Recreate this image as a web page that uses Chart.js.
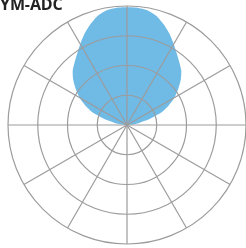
<!DOCTYPE html>
<html>
<head>
<meta charset="utf-8">
<script src="https://cdn.jsdelivr.net/npm/chart.js@4"></script>
<style>
html,body{margin:0;padding:0;background:#fff;overflow:hidden;}
#wrap{position:relative;width:246px;height:248px;}
#title{position:absolute;left:0;top:-7px;font-family:"Open Sans",sans-serif;font-weight:700;font-size:16px;color:#222;white-space:nowrap;z-index:2;letter-spacing:-0.1px;}
canvas{position:absolute;left:0;top:0;}
</style>
</head>
<body>
<div id="wrap">
<div id="title">YM-ADC</div>
<canvas id="c" width="246" height="248"></canvas>
</div>
<script>
// angle categories (degrees, clockwise from top)
const angles = [0,5,10,15,20,25,30,35,40,45,50,55,60,65,70,75,80,85,90,95,100,105,110,115,120,125,130,135,140,145,150,155,160,165,170,175,180,185,190,195,200,205,210,215,220,225,230,235,240,245,250,255,260,265,270,275,280,285,290,295,300,305,310,315,320,325,330,335,340,345,350,355];
// relative response (0..1)
const response = [0.99,0.99,0.98,0.95,0.90,0.845,0.785,0.73,0.685,0.645,0.59,0.525,0.46,0.385,0.305,0.2,0.11,0.05,0,
  0,0,0,0,0,0,0,0,0,0,0,0,0,0,0,0,0,0,0,0,0,0,0,0,0,0,0,0,0,0,0,0,0,0,0,
  0,0.05,0.11,0.2,0.305,0.385,0.46,0.525,0.59,0.645,0.685,0.73,0.785,0.845,0.90,0.95,0.98,0.99];
const ringStep = 0.25;
const spokeEvery = 30;

new Chart(document.getElementById('c'), {
  type: 'radar',
  data: {
    labels: angles,
    datasets: [{
      data: response,
      backgroundColor: '#70bae6',
      borderWidth: 0,
      borderColor: 'rgba(0,0,0,0)',
      pointRadius: 0,
      fill: true,
      tension: 0.2
    }]
  },
  options: {
    responsive: false,
    animation: false,
    layout: { padding: { left: 8, right: 0, top: 6, bottom: 4 } },
    plugins: { legend: { display: false }, tooltip: { enabled: false }, title: { display: false } },
    scales: {
      r: {
        min: 0,
        max: 1,
        ticks: { display: false, stepSize: ringStep },
        pointLabels: { display: false },
        grid: { color: '#9c9c9c', lineWidth: 1.2, circular: true, z: 1 },
        angleLines: {
          display: true,
          lineWidth: 1.2,
          color: (ctx) => (angles[ctx.index] % spokeEvery === 0 ? '#9c9c9c' : 'rgba(0,0,0,0)')
        }
      }
    }
  }
});
</script>
</body>
</html>
